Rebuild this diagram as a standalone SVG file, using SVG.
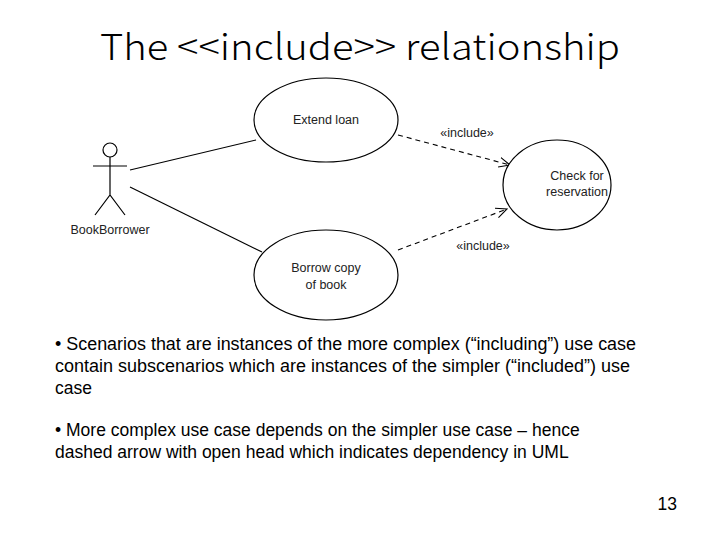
<svg xmlns="http://www.w3.org/2000/svg" width="720" height="540" viewBox="0 0 720 540">
<style>
.n{fill:#fff;stroke:#000;stroke-width:1.2}
.l{font-family:"Liberation Sans",Arial,sans-serif;font-size:12.5px;fill:#222;text-anchor:middle}
.b{font-family:"Liberation Sans",Arial,sans-serif;font-size:17.5px;fill:#000}
.c{stroke:#000;stroke-width:1.2;fill:none}
.d{stroke:#000;stroke-width:1.1;fill:none;stroke-dasharray:5,4}
</style>
<defs><marker id="a" viewBox="0 0 12 12" refX="11" refY="6" markerWidth="12" markerHeight="12" markerUnits="userSpaceOnUse" orient="auto"><path d="M0,1 L11,6 L0,11" fill="none" stroke="#000" stroke-width="1.1"/></marker></defs>
<rect width="720" height="540" fill="#fff"/>
<text x="100" y="60" font-family="'Noto Sans CJK JP','Liberation Sans',sans-serif" font-weight="300" font-size="36" textLength="520" lengthAdjust="spacingAndGlyphs">The &lt;&lt;include&gt;&gt; relationship</text>
<g id="connectors">
<line class="c" x1="130" y1="170" x2="256" y2="140"/>
<line class="c" x1="130" y1="187" x2="262" y2="252"/>
<line class="d" x1="398" y1="135" x2="510" y2="165" marker-end="url(#a)"/>
<line class="d" x1="398" y1="250" x2="507" y2="209" marker-end="url(#a)"/>
<text class="l" x="467" y="137">«include»</text>
<text class="l" x="483" y="250">«include»</text>
</g>
<g id="actor">
<circle class="n" cx="110" cy="150" r="7"/>
<path class="c" d="M93,166H127M110,157V195M95,215L110,195L125,215"/>
<text class="l" x="110" y="234">BookBorrower</text>
</g>
<g id="extend"><ellipse class="n" cx="326" cy="120" rx="72" ry="42"/><text class="l" x="326" y="124">Extend loan</text></g>
<g id="borrow"><ellipse class="n" cx="326" cy="275" rx="72" ry="45"/><text class="l" x="326" y="272">Borrow copy</text><text class="l" x="326" y="289">of book</text></g>
<g id="check"><ellipse class="n" cx="557" cy="185" rx="54" ry="45"/><text class="l" x="577" y="180">Check for</text><text class="l" x="577" y="196">reservation</text></g>
<text class="b" x="55" y="350" textLength="581" lengthAdjust="spacingAndGlyphs">• Scenarios that are instances of the more complex (“including”) use case</text>
<text class="b" x="55" y="372" textLength="575" lengthAdjust="spacingAndGlyphs">contain subscenarios which are instances of the simpler (“included”) use</text>
<text class="b" x="55" y="394">case</text>
<text class="b" x="55" y="436">• More complex use case depends on the simpler use case – hence</text>
<text class="b" x="55" y="458">dashed arrow with open head which indicates dependency in UML</text>
<text class="b" x="677" y="510" text-anchor="end" font-size="14">13</text>
</svg>
